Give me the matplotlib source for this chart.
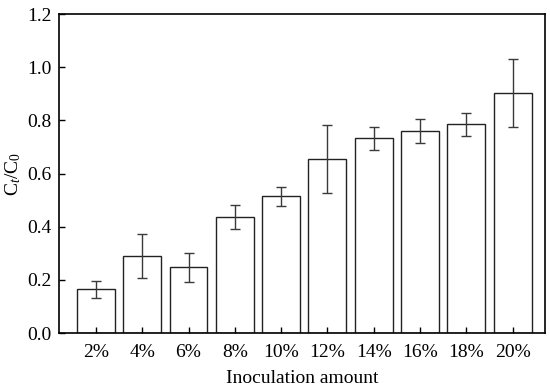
import matplotlib
matplotlib.use("Agg")
import matplotlib.pyplot as plt

categories = ["2%", "4%", "6%", "8%", "10%", "12%", "14%", "16%", "18%", "20%"]
values = [0.164, 0.290, 0.248, 0.436, 0.514, 0.655, 0.732, 0.759, 0.785, 0.903]
errors = [0.033, 0.084, 0.055, 0.045, 0.036, 0.128, 0.044, 0.045, 0.042, 0.127]
yticks = [0.0, 0.2, 0.4, 0.6, 0.8, 1.0, 1.2]

plt.rcParams['font.family'] = ['Liberation Serif', 'DejaVu Serif']
plt.rcParams['mathtext.fontset'] = 'custom'
plt.rcParams['mathtext.rm'] = 'Liberation Serif'
plt.rcParams['mathtext.it'] = 'Liberation Serif:italic'

fig = plt.figure(figsize=(5.5, 3.9), dpi=100)
ax = fig.add_axes([0.107, 0.146, 0.884, 0.818])
x = list(range(len(categories)))
ax.bar(x, values, width=0.82, color='white', edgecolor='#222222', linewidth=1.0,
       yerr=errors, error_kw=dict(ecolor='#3a3a3a', elinewidth=1.0, capsize=3.5, capthick=1.0))
ax.set_xlim(-0.8, 9.7)
ax.set_ylim(0, 1.2)
ax.set_xticks(x)
ax.set_xticklabels(categories)
ax.set_yticks(yticks)
ax.set_yticklabels([f"{t:.1f}" for t in yticks])
ax.tick_params(direction='in', length=4, width=1.0, labelsize=14)
ax.tick_params(axis='x', pad=8)
ax.tick_params(axis='y', pad=5)
for s in ax.spines.values():
    s.set_linewidth(1.2)
ax.set_xlabel("Inoculation amount", fontsize=14, labelpad=6)
ax.set_ylabel(r"C$_{\it t}$/C$_0$", fontsize=14, labelpad=3)
fig.savefig("out.png", dpi=100)
